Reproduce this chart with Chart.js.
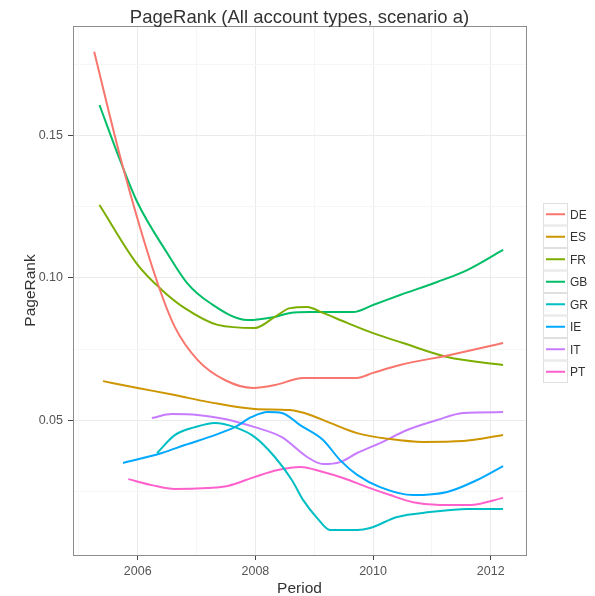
<!DOCTYPE html>
<html>
<head>
<meta charset="utf-8">
<script src="https://cdn.jsdelivr.net/npm/chart.js@4.4.1/dist/chart.umd.min.js"></script>
<style>
  body { margin: 0; background: #fff; }
  canvas { display: block; }
</style>
</head>
<body>
<canvas id="chart" width="595" height="596"></canvas>
<script>
// Series (period as decimal year, PageRank value)
const countries = ['DE', 'ES', 'FR', 'GB', 'GR', 'IE', 'IT', 'PT'];
const colors = ['#F8766D', '#CD9600', '#7CAE00', '#00BE67', '#00BFC4', '#00A9FF', '#C77CFF', '#FF61CC'];

const deYears = [2005.26, 2005.73, 2006.32, 2006.63, 2007.02, 2007.48, 2007.96, 2008.33, 2008.81, 2009.72, 2010.0, 2010.46, 2011.31, 2012.21];
const deValues = [0.1796, 0.1405, 0.0993, 0.0828, 0.0711, 0.0641, 0.0613, 0.0623, 0.0648, 0.0648, 0.0666, 0.0694, 0.0729, 0.0771];

const esYears = [2005.41, 2006.0, 2006.63, 2007.19, 2007.99, 2008.59, 2008.93, 2009.27, 2009.73, 2010.29, 2010.85, 2011.53, 2012.21];
const esValues = [0.0637, 0.0613, 0.0588, 0.0564, 0.0539, 0.0535, 0.0518, 0.0490, 0.0454, 0.0433, 0.0423, 0.0426, 0.0447];

const frYears = [2005.35, 2006.0, 2006.41, 2006.80, 2007.36, 2007.99, 2008.33, 2008.59, 2008.88, 2009.15, 2009.56, 2010.0, 2010.51, 2011.26, 2012.21];
const frValues = [0.1257, 0.1046, 0.0958, 0.0894, 0.0835, 0.0824, 0.0863, 0.0894, 0.0898, 0.0877, 0.0842, 0.0806, 0.0771, 0.0722, 0.0694];

const gbYears = [2005.35, 2005.70, 2006.0, 2006.50, 2006.84, 2007.23, 2007.87, 2008.33, 2008.59, 2008.93, 2009.66, 2010.0, 2010.46, 2011.09, 2011.60, 2012.21];
const gbValues = [0.1609, 0.1415, 0.1264, 0.1088, 0.0982, 0.0912, 0.0852, 0.0863, 0.0877, 0.0880, 0.0880, 0.0905, 0.0940, 0.0986, 0.1028, 0.1099];

const grYears = [2006.33, 2006.63, 2006.97, 2007.31, 2007.65, 2007.99, 2008.33, 2008.62, 2008.81, 2009.05, 2009.27, 2009.73, 2009.95, 2010.41, 2010.97, 2011.60, 2012.21];
const grValues = [0.0384, 0.0447, 0.0475, 0.0490, 0.0475, 0.0440, 0.0370, 0.0289, 0.0219, 0.0155, 0.0113, 0.0113, 0.0120, 0.0159, 0.0176, 0.0187, 0.0187];

const ieYears = [2005.75, 2006.41, 2006.80, 2007.31, 2007.65, 2007.94, 2008.21, 2008.45, 2008.76, 2009.15, 2009.44, 2009.73, 2010.12, 2010.68, 2011.26, 2011.77, 2012.21];
const ieValues = [0.0349, 0.0384, 0.0412, 0.0447, 0.0475, 0.0511, 0.0528, 0.0525, 0.0482, 0.0430, 0.0359, 0.0307, 0.0264, 0.0236, 0.0247, 0.0289, 0.0338];

const itYears = [2006.24, 2006.58, 2007.02, 2007.48, 2007.99, 2008.45, 2008.88, 2009.15, 2009.44, 2009.73, 2010.12, 2010.58, 2011.09, 2011.53, 2012.21];
const itValues = [0.0507, 0.0521, 0.0518, 0.0504, 0.0475, 0.0440, 0.0370, 0.0345, 0.0352, 0.0384, 0.0419, 0.0465, 0.0500, 0.0525, 0.0528];

const ptYears = [2005.84, 2006.24, 2006.63, 2007.19, 2007.53, 2007.99, 2008.38, 2008.76, 2009.15, 2009.49, 2009.90, 2010.29, 2010.68, 2011.14, 2011.65, 2012.21];
const ptValues = [0.0292, 0.0271, 0.0257, 0.0261, 0.0268, 0.0300, 0.0324, 0.0335, 0.0317, 0.0296, 0.0264, 0.0236, 0.0211, 0.0201, 0.0201, 0.0226];

// tick positions (major ones get labels)
const xTicks = [2005, 2006, 2007, 2008, 2009, 2010, 2011, 2012];
const xLabels = [2006, 2008, 2010, 2012];
const yTicks = [0.025, 0.05, 0.075, 0.10, 0.125, 0.15, 0.175];
const yLabels = ['0.05', '0.10', '0.15'];

const seriesYears = [deYears, esYears, frYears, gbYears, grYears, ieYears, itYears, ptYears];
const seriesValues = [deValues, esValues, frValues, gbValues, grValues, ieValues, itValues, ptValues];

const TITLE = 'PageRank (All account types, scenario a)';
const FONT = '"Liberation Sans", Arial, sans-serif';

function isMajorX(v) { return xLabels.includes(Math.round(v)) && Math.abs(v - Math.round(v)) < 1e-6; }
function isMajorY(v) { return yLabels.includes(v.toFixed(2)) && Math.abs(v * 20 - Math.round(v * 20)) < 1e-6; }

// title centred on the panel, panel border, ggplot-style legend
const ggExtras = {
    id: 'ggExtras',
    afterDatasetsDraw(chart) {
        const { ctx, chartArea: a } = chart;
        ctx.save();
        ctx.strokeStyle = '#8c8c8c';
        ctx.lineWidth = 1;
        ctx.strokeRect(Math.round(a.left) + 0.5, Math.round(a.top) + 0.5, Math.round(a.right - a.left), Math.round(a.bottom - a.top));
        ctx.restore();
    },
    afterDraw(chart) {
        const { ctx, chartArea: a } = chart;
        ctx.save();
        ctx.fillStyle = '#333';
        ctx.font = '18.5px ' + FONT;
        ctx.textAlign = 'center';
        ctx.textBaseline = 'middle';
        ctx.fillText(TITLE, (a.left + a.right) / 2, 18);

        const boxX = 543, boxW = 25, keyH = 22.5, top = 203;
        ctx.textAlign = 'left';
        chart.data.datasets.forEach((ds, i) => {
            const y = top + i * keyH;
            ctx.fillStyle = '#fff';
            ctx.fillRect(boxX, y, boxW, keyH);
            ctx.strokeStyle = '#e0e0e0';
            ctx.lineWidth = 1;
            ctx.strokeRect(boxX + 0.5, y + 0.5, boxW - 1, keyH - 1);
            ctx.strokeStyle = ds.borderColor;
            ctx.lineWidth = 2;
            ctx.beginPath();
            ctx.moveTo(boxX + 3, y + keyH / 2);
            ctx.lineTo(boxX + boxW - 3, y + keyH / 2);
            ctx.stroke();
            ctx.fillStyle = '#333';
            ctx.font = '12px ' + FONT;
            ctx.fillText(ds.label, boxX + boxW + 2, y + keyH / 2 + 1);
        });
        ctx.restore();
    }
};

const datasets = countries.map((c, i) => ({
    label: c,
    data: seriesYears[i].map((x, j) => ({ x: x, y: seriesValues[i][j] })),
    borderColor: colors[i],
    backgroundColor: colors[i],
    borderWidth: 2,
    pointRadius: 0,
    fill: false,
    tension: 0.4,
    cubicInterpolationMode: 'monotone'
}));

new Chart(document.getElementById('chart'), {
    type: 'line',
    data: { datasets: datasets },
    options: {
        responsive: false,
        animation: false,
        layout: { padding: { left: 0, right: 69, top: 26, bottom: 0 } },
        plugins: {
            legend: { display: false },
            tooltip: { enabled: false },
            title: { display: false }
        },
        scales: {
            x: {
                type: 'linear',
                min: 2004.9,
                max: 2012.6,
                afterBuildTicks: s => { s.ticks = xTicks.map(v => ({ value: v })); },
                afterFit: s => { s.height = 41; },
                ticks: {
                    autoSkip: false,
                    maxRotation: 0,
                    padding: 4,
                    color: '#555',
                    font: { family: FONT, size: 12.5 },
                    callback: v => isMajorX(v) ? String(v) : ''
                },
                grid: {
                    color: c => isMajorX(c.tick.value) ? '#ebebeb' : '#f6f6f6',
                    tickColor: c => isMajorX(c.tick.value) ? '#444' : 'rgba(0,0,0,0)',
                    tickLength: 5,
                    lineWidth: 1
                },
                border: { display: false },
                title: {
                    display: true,
                    text: 'Period',
                    color: '#333',
                    font: { family: FONT, size: 15.5, lineHeight: 1 },
                    padding: { top: 0, bottom: 0 }
                }
            },
            y: {
                type: 'linear',
                min: 0.0025,
                max: 0.1887,
                afterBuildTicks: s => { s.ticks = yTicks.map(v => ({ value: v })); },
                afterFit: s => { s.width = 73; },
                ticks: {
                    padding: 5,
                    color: '#555',
                    font: { family: FONT, size: 12.5 },
                    callback: v => isMajorY(v) ? v.toFixed(2) : ''
                },
                grid: {
                    color: c => isMajorY(c.tick.value) ? '#ebebeb' : '#f6f6f6',
                    tickColor: c => isMajorY(c.tick.value) ? '#444' : 'rgba(0,0,0,0)',
                    tickLength: 5,
                    lineWidth: 1
                },
                border: { display: false },
                title: {
                    display: true,
                    text: 'PageRank',
                    color: '#333',
                    font: { family: FONT, size: 15.5, lineHeight: 1.2 },
                    padding: { top: 21, bottom: 0 }
                }
            }
        }
    },
    plugins: [ggExtras]
});
</script>
</body>
</html>
